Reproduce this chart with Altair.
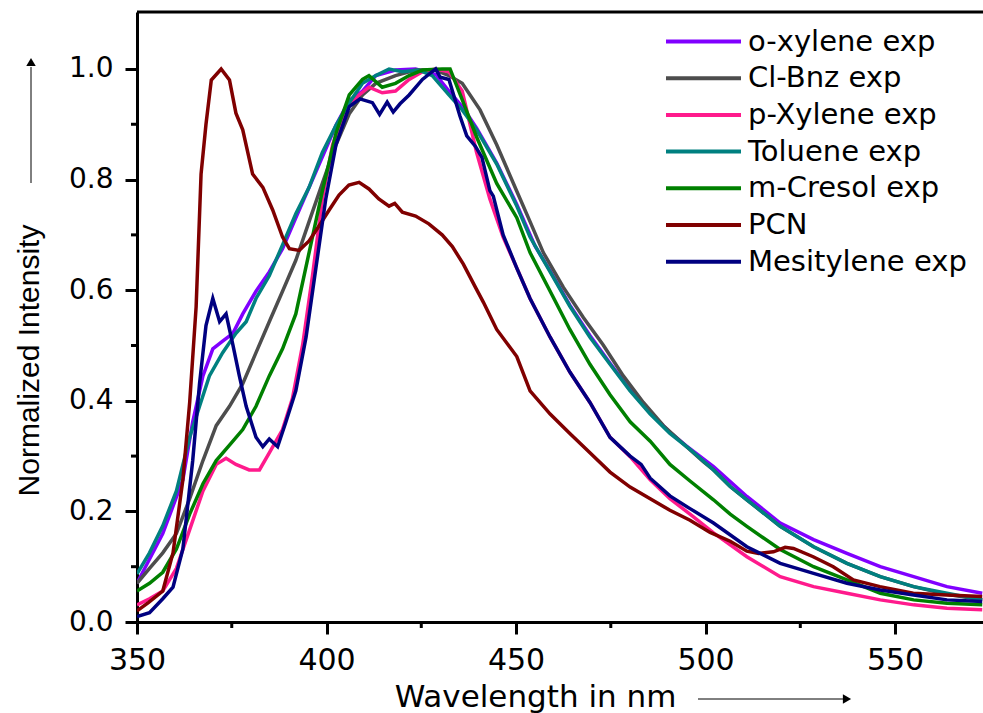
import altair as alt
import pandas as pd

# ---------------- data ----------------
series_names = ["o-xylene exp", "Cl-Bnz exp", "p-Xylene exp", "Toluene exp",
                "m-Cresol exp", "PCN", "Mesitylene exp"]
series_colors = ["#8000FF", "#4D4D4D", "#FF1A8C", "#008080",
                 "#008000", "#800000", "#000080"]

oxy_wl = [350, 356.8, 362.1, 364.7, 367.4, 370, 372.6, 375.3, 377.9, 381.4, 384.9, 388.4,
          391.9, 397.2, 402.5, 406, 409.5, 413, 418.2, 423.5, 428.8, 432.3, 436, 439.6,
          444.9, 450.2, 455, 459, 464.2, 469.5, 474.8, 480.1, 485.4, 490.6, 495, 502.1,
          510.9, 519.7, 528.5, 537.3, 546.1, 554.9, 563.7, 573]
oxy_v = [0.07, 0.16, 0.257, 0.362, 0.445, 0.494, 0.508, 0.522, 0.557, 0.598, 0.633, 0.675,
         0.731, 0.814, 0.898, 0.943, 0.96, 0.988, 0.998, 1.0, 0.99, 0.96, 0.93, 0.893,
         0.83, 0.755, 0.68, 0.635, 0.573, 0.518, 0.468, 0.42, 0.378, 0.343, 0.318, 0.281,
         0.227, 0.179, 0.149, 0.124, 0.10, 0.082, 0.064, 0.052]

clb_wl = [350, 353.3, 356.8, 360.4, 363.9, 367.4, 370.9, 374.4, 377.9, 381.4, 384.9, 388.4,
          391.9, 395.4, 398.9, 402.5, 406, 409.5, 413, 418.2, 423.5, 428.8, 432.3, 435.8,
          440.5, 444.9, 450.2, 453.7, 457.2, 462.5, 467.8, 473, 478.3, 483.6, 488.9, 494.2,
          499.4, 502.1, 506.5, 510.9, 519.7, 528.5, 537.3, 546.1, 554.9, 563.7, 573]
clb_v = [0.07, 0.097, 0.125, 0.16, 0.223, 0.292, 0.355, 0.39, 0.431, 0.487, 0.543, 0.598,
         0.654, 0.724, 0.793, 0.863, 0.919, 0.953, 0.974, 0.988, 0.998, 0.998, 0.988, 0.974,
         0.926, 0.863, 0.779, 0.724, 0.668, 0.605, 0.55, 0.501, 0.445, 0.397, 0.355, 0.322,
         0.29, 0.275, 0.245, 0.221, 0.173, 0.136, 0.106, 0.082, 0.064, 0.05, 0.04]

pxy_wl = [350, 353.3, 356.8, 360.4, 363.9, 367.4, 370.9, 373.5, 376.1, 379.6, 382.3, 384.9,
          388.4, 391, 393.7, 396.3, 398.9, 401.6, 405.1, 408.6, 411.2, 414.7, 418.2, 421.8,
          425.3, 428.8, 432.3, 435.8, 439.6, 443.1, 446.6, 450.2, 453.7, 459, 464.2, 469.5,
          474.8, 480.1, 485.4, 490.6, 495.9, 502.1, 510.9, 519.7, 528.5, 537.3, 546.1,
          554.9, 563.7, 573]
pxy_v = [0.031, 0.042, 0.056, 0.097, 0.167, 0.237, 0.285, 0.296, 0.285, 0.275, 0.275, 0.306,
         0.348, 0.404, 0.501, 0.626, 0.765, 0.863, 0.926, 0.953, 0.967, 0.957, 0.96, 0.981,
         0.995, 1.0, 0.995, 0.96, 0.849, 0.765, 0.696, 0.64, 0.585, 0.515, 0.452, 0.397,
         0.334, 0.299, 0.257, 0.223, 0.195, 0.161, 0.118, 0.082, 0.064, 0.052, 0.04,
         0.031, 0.025, 0.022]

tol_wl = [350, 353.3, 356.8, 360.4, 363.9, 366.5, 369.1, 372.6, 376.1, 378.8, 381.4, 384.9,
          388.4, 391.9, 395.4, 398.9, 402.5, 406, 409.5, 413, 416.5, 420, 424.4, 427.9,
          432.3, 435.8, 439.6, 444.9, 450.2, 453.7, 459, 464.2, 469.5, 474.8, 480.1, 485.4,
          490.6, 495.9, 502.1, 506.5, 510.9, 519.7, 528.5, 537.3, 546.1, 554.9, 563.7, 573]
tol_v = [0.087, 0.125, 0.174, 0.237, 0.334, 0.39, 0.445, 0.487, 0.522, 0.543, 0.585, 0.626,
         0.682, 0.738, 0.786, 0.849, 0.898, 0.939, 0.974, 0.988, 1.0, 0.995, 0.998, 0.988,
         0.953, 0.926, 0.89, 0.828, 0.752, 0.696, 0.633, 0.571, 0.515, 0.466, 0.418, 0.376,
         0.341, 0.312, 0.275, 0.245, 0.221, 0.173, 0.136, 0.106, 0.082, 0.064, 0.052, 0.04]

mcr_wl = [350, 353.3, 356.8, 360.4, 363.9, 367.4, 370.9, 374.4, 377.9, 381.4, 384.9, 388.4,
          391.9, 395.4, 398.9, 402.5, 406, 409.5, 411.2, 414.7, 418.2, 421.8, 425.3, 430.5,
          432.6, 436.1, 439.6, 444.9, 450.2, 453.7, 459, 464.2, 469.5, 474.8, 480.1, 485.4,
          490.6, 495.9, 502.1, 506.5, 510.9, 519.7, 528.5, 537.3, 546.1, 554.9, 563.7, 573]
mcr_v = [0.056, 0.07, 0.09, 0.132, 0.195, 0.25, 0.292, 0.32, 0.348, 0.39, 0.445, 0.494,
         0.557, 0.668, 0.779, 0.884, 0.953, 0.981, 0.988, 0.967, 0.974, 0.988, 0.998, 1.0,
         1.0, 0.939, 0.877, 0.793, 0.731, 0.668, 0.598, 0.529, 0.466, 0.411, 0.362, 0.327,
         0.285, 0.255, 0.221, 0.195, 0.173, 0.131, 0.10, 0.076, 0.052, 0.04, 0.034, 0.031]

pcn_wl = [350, 353, 356.8, 359.5, 362.1, 363.9, 365.6, 366.9, 368.2, 369.6, 372.2, 374.4,
          376.1, 377.9, 380.5, 383.2, 385.8, 388.4, 390.2, 392.8, 395.4, 398.1, 400.7, 403.3,
          405.9, 408.6, 411.2, 413.8, 416.5, 418, 420, 423.5, 427, 430.5, 433.2, 436.1, 439.3,
          441.4, 444.9, 450.2, 453.7, 459, 464.2, 469.5, 474.8, 480.1, 485.4, 490.6, 495.9,
          501.2, 506.5, 510.9, 514, 517.9, 521, 523.2, 528.4, 533.7, 539, 546, 554.8, 563.6, 573]
pcn_v = [0.02, 0.035, 0.056, 0.125, 0.257, 0.397, 0.57, 0.81, 0.90, 0.98, 1.0, 0.98,
         0.92, 0.89, 0.81, 0.786, 0.745, 0.696, 0.675, 0.672, 0.689, 0.717, 0.745, 0.772,
         0.79, 0.795, 0.783, 0.765, 0.752, 0.757, 0.741, 0.734, 0.72, 0.70, 0.679, 0.647, 0.605,
         0.578, 0.529, 0.48, 0.418, 0.376, 0.341, 0.306, 0.271, 0.244, 0.223, 0.202, 0.184,
         0.162, 0.146, 0.128, 0.124, 0.127, 0.135, 0.133, 0.118, 0.10, 0.076, 0.064, 0.052, 0.049, 0.046]

mes_wl = [350, 353.3, 356.8, 359.5, 362.1, 364.7, 366.5, 368.2, 370, 371.8, 373.5, 375.3,
          377, 378.8, 381.4, 383.2, 384.9, 387.1, 389.3, 391.9, 394.6, 397.2, 399.8, 402.5,
          406, 408.8, 412.1, 414, 416, 417.6, 419.4, 421.8, 425.3, 428.8, 430, 432.3, 435.2,
          437, 439.3, 441, 443.1, 444, 446.6, 450.2, 453.7, 459, 464.2, 469.5, 474.8, 480.1,
          483, 485.4, 490.6, 495.9, 502.1, 510.9, 519.7, 528.5, 537.3, 546.1, 554.9, 563.7, 573]
mes_v = [0.01, 0.017, 0.042, 0.063, 0.132, 0.292, 0.431, 0.536, 0.585, 0.543, 0.557, 0.501,
         0.445, 0.39, 0.334, 0.317, 0.331, 0.317, 0.362, 0.418, 0.515, 0.64, 0.765, 0.863,
         0.932, 0.946, 0.939, 0.918, 0.94, 0.922, 0.937, 0.953, 0.981, 1.0, 0.985, 0.981, 0.915,
         0.879, 0.86, 0.84, 0.78, 0.77, 0.70, 0.64, 0.585, 0.515, 0.452, 0.397, 0.334, 0.30,
         0.285, 0.26, 0.228, 0.205, 0.179, 0.136, 0.106, 0.088, 0.07, 0.058, 0.049, 0.04, 0.037]

x_major = [350, 400, 450, 500, 550]
x_minor = [375, 425, 475, 525]
y_major = [0.0, 0.2, 0.4, 0.6, 0.8, 1.0]
y_minor = [0.1, 0.3, 0.5, 0.7, 0.9]

# ---------------- build table ----------------
all_wl = [oxy_wl, clb_wl, pxy_wl, tol_wl, mcr_wl, pcn_wl, mes_wl]
all_v = [oxy_v, clb_v, pxy_v, tol_v, mcr_v, pcn_v, mes_v]
rows = []
for name, wl, v in zip(series_names, all_wl, all_v):
    for a, b in zip(wl, v):
        rows.append({"series": name, "wl": a, "value": b})
df = pd.DataFrame(rows)

W, H = 846, 610
xscale = alt.Scale(domain=[350, 573.2], nice=False, zero=False)
yscale = alt.Scale(domain=[0, 1.103], nice=False, zero=False)

label_font = "DejaVu Sans"
title_font = "Liberation Sans"

x_axis = alt.Axis(values=x_major, format="d", title="Wavelength in nm",
                  grid=False, domainColor="black", domainWidth=3,
                  tickColor="black", tickWidth=3, tickSize=12,
                  labelFont=label_font, labelFontSize=30, labelColor="black",
                  labelPadding=11, labelFlush=False,
                  titleFont=label_font, titleFontSize=31, titleFontWeight="normal",
                  titleColor="black", titleX=398, titleY=84,
                  titleAlign="center", titleBaseline="alphabetic")
y_axis = alt.Axis(values=y_major, format=".1f", title="Normalized Intensity",
                  grid=False, domainColor="black", domainWidth=3,
                  tickColor="black", tickWidth=3, tickSize=12,
                  labelFont=label_font, labelFontSize=28, labelColor="black",
                  labelPadding=12, labelFlush=False,
                  titleFont=title_font, titleFontSize=30, titleFontWeight="normal",
                  titleColor="black", titleAngle=270, titleX=-108, titleY=348,
                  titleAlign="center", titleBaseline="middle")

lines = alt.Chart(df).mark_line(strokeWidth=3.5, clip=True).encode(
    x=alt.X("wl:Q", scale=xscale, axis=x_axis),
    y=alt.Y("value:Q", scale=yscale, axis=y_axis),
    color=alt.Color("series:N",
                    scale=alt.Scale(domain=series_names, range=series_colors),
                    legend=alt.Legend(orient="none", legendX=552, legendY=15, title=None,
                                      symbolType="M-3,0H3", symbolSize=625,
                                      symbolStrokeWidth=4, labelFont=label_font,
                                      labelFontSize=29, labelColor="black",
                                      labelOffset=30, rowPadding=6.7, padding=0,
                                      labelLimit=400)),
)

xminor = alt.Chart(pd.DataFrame({"wl": x_minor})).mark_rule(
    color="black", strokeWidth=3).encode(
    x=alt.X("wl:Q", scale=xscale, axis=x_axis),
    y=alt.value(H), y2=alt.value(H + 6))

yminor = alt.Chart(pd.DataFrame({"value": y_minor})).mark_rule(
    color="black", strokeWidth=3).encode(
    y=alt.Y("value:Q", scale=yscale, axis=y_axis),
    x=alt.value(-6), x2=alt.value(0))

frame_df = pd.DataFrame({"k": [0]})
top_border = alt.Chart(frame_df).mark_rule(color="black", strokeWidth=3).encode(
    x=alt.value(0), x2=alt.value(W), y=alt.value(0))

# decorative arrows next to the axis titles
x_arrow = alt.Chart(frame_df).mark_rule(color="black", strokeWidth=1).encode(
    x=alt.value(561), x2=alt.value(706), y=alt.value(687))
x_head = alt.Chart(frame_df).mark_point(shape="triangle-right", filled=True,
                                        color="black", size=90, opacity=1).encode(
    x=alt.value(710), y=alt.value(687))
y_arrow = alt.Chart(frame_df).mark_rule(color="black", strokeWidth=1).encode(
    x=alt.value(-106), x2=alt.value(-106), y=alt.value(171), y2=alt.value(55))
y_head = alt.Chart(frame_df).mark_point(shape="triangle-up", filled=True,
                                        color="black", size=90, opacity=1).encode(
    x=alt.value(-106), y=alt.value(50))

chart = alt.layer(lines, xminor, yminor, top_border, x_arrow, x_head, y_arrow, y_head).properties(
    width=W, height=H,
    padding={"left": 137, "top": 12, "right": 0, "bottom": 91},
    autosize=alt.AutoSizeParams(type="none"),
    background="white",
).configure_view(stroke=None)

chart.save("out.html", embed_options={"renderer": "svg", "actions": False})
